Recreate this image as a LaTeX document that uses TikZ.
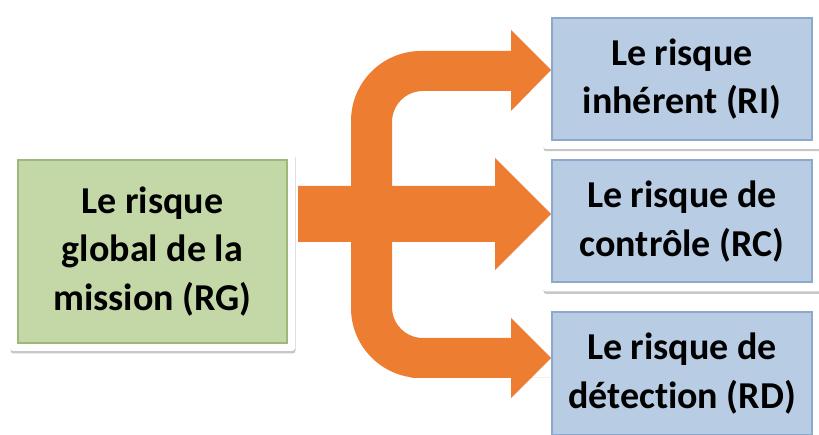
\documentclass[tikz,border=0pt]{standalone}
\usepackage{fontspec}
\setmainfont{Carlito}[Ligatures=NoCommon]
\usetikzlibrary{fit,backgrounds,shadows}
\definecolor{arroworange}{HTML}{ED7D31}
\definecolor{greenfill}{HTML}{C3D8A6}
\definecolor{greenedge}{HTML}{9DB97A}
\definecolor{bluefill}{HTML}{B8CCE4}
\definecolor{blueedge}{HTML}{8DA8CA}

\begin{document}
\begin{tikzpicture}[x=1pt, y=-1pt, every node/.style={inner sep=0pt, align=center, font=\bfseries\fontsize{38}{48.5}\selectfont}]
\useasboundingbox (0,0) rectangle (819,435);

\begin{scope}[every node/.style={inner sep=0pt, align=center, font=\bfseries\fontsize{38}{48.5}\selectfont, minimum width=269pt, minimum height=183pt, fill=greenfill, draw=greenedge, line width=2pt}]
\node (RG) at (152.5,251.5) {Le risque\\global de la\\mission (RG)};
\end{scope}

\begin{scope}[every node/.style={inner sep=0pt, align=center, font=\bfseries\fontsize{38}{48.5}\selectfont, minimum width=260pt, minimum height=122pt, fill=bluefill, draw=blueedge, line width=2pt}]
\node (RI) at (682,79) {Le risque\\inhérent (RI)};
\node (RC) at (682,221.5) {Le risque de\\contrôle (RC)};
\node (RD) at (682,373.5) [minimum height=123pt] {Le risque de\\détection (RD)};
\end{scope}

\begin{scope}[on background layer, every node/.style={draw=none, fill=white, rounded corners=3pt, drop shadow={shadow xshift=0.5pt, shadow yshift=-2.5pt, fill=black, opacity=0.22}}]
\node[fit=(RG), inner sep=7pt] (RGframe) {};
\node[fit=(RI), inner sep=8pt] (RIframe) {};
\node[fit=(RC), inner sep=8pt] (RCframe) {};
\node[fit=(RD), inner sep=8pt] (RDframe) {};
\end{scope}

\coordinate (tipI) at (551,70);
\coordinate (tipC) at (551,214);
\coordinate (tipD) at (551,358);

% middle arrow
\fill[arroworange] (298,186) -- (495,186) -- (495,158) -- (tipC) -- (495,270) -- (495,242) -- (298,242) -- cycle;

% branch arrows
\fill[arroworange] (tipI) -- (511,30) -- (511,51) -- (480,51) [rounded corners=70pt] -- (351,51) -- (351,378) -- (480,378) [sharp corners] -- (511,378) -- (511,398) -- (tipD) -- (511,318) -- (511,338) -- (480,338) [rounded corners=31pt] -- (392,338) -- (392,91) -- (480,91) [sharp corners] -- (511,91) -- (511,111) -- cycle;

\end{tikzpicture}
\end{document}
